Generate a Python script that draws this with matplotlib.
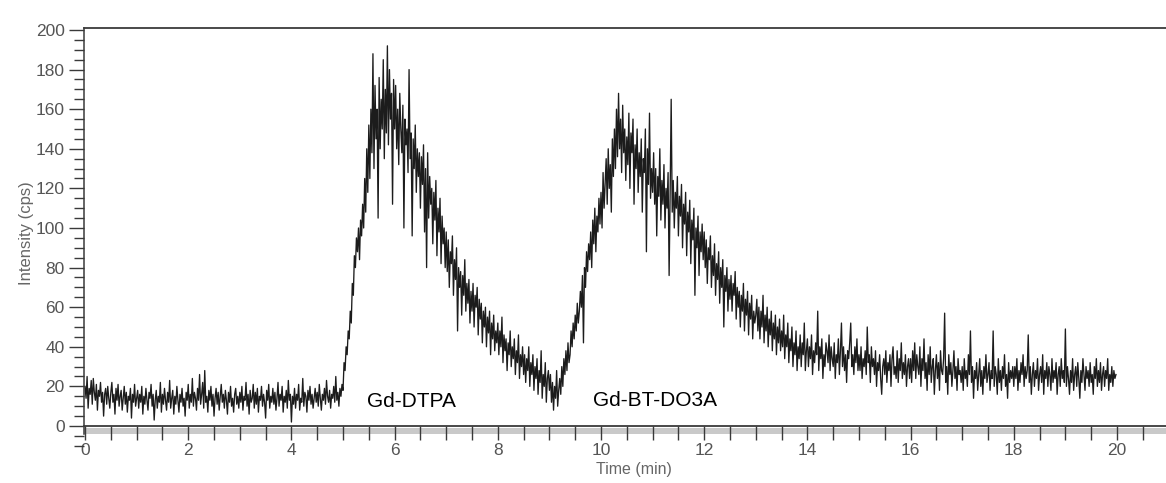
import numpy as np
import matplotlib
matplotlib.use("Agg")
import matplotlib.pyplot as plt
from matplotlib.patches import Rectangle
from matplotlib.ticker import MultipleLocator

plt.rcParams['font.family'] = ['Liberation Sans', 'DejaVu Sans']

# ---------------- data ----------------
# readings every 0.02 min; each list covers half a minute (25 readings)
sample_step_min = 0.02

i_00a = [20, 14, 25, 9, 19, 16, 23, 11, 24, 17, 13, 21, 8, 18, 15, 22, 12, 17, 5, 16, 19, 11, 20, 14, 9]
i_00b = [17, 22, 12, 16, 6, 19, 13, 21, 10, 15, 18, 8, 14, 20, 11, 17, 7, 15, 13, 19, 4, 16, 12, 21, 10]
i_01a = [14, 18, 9, 16, 12, 20, 6, 15, 11, 19, 13, 8, 17, 14, 21, 10, 16, 3, 13, 18, 9, 15, 12, 22, 7]
i_01b = [16, 11, 19, 13, 8, 17, 12, 23, 9, 14, 18, 6, 15, 11, 20, 13, 7, 16, 12, 19, 10, 14, 5, 17, 13]
i_02a = [21, 9, 16, 12, 24, 10, 17, 14, 8, 19, 13, 26, 11, 16, 22, 9, 28, 12, 15, 7, 18, 13, 20, 10, 16]
i_02b = [5, 14, 19, 11, 17, 8, 15, 21, 12, 16, 9, 18, 13, 6, 17, 12, 20, 10, 14, 7, 16, 19, 11, 15, 9]
i_03a = [17, 12, 20, 8, 15, 13, 22, 10, 16, 6, 18, 12, 14, 21, 9, 17, 11, 19, 7, 15, 13, 20, 10, 16, 12]
i_03b = [4, 18, 13, 21, 9, 15, 12, 19, 11, 17, 8, 14, 22, 10, 16, 13, 20, 7, 15, 12, 18, 9, 23, 13, 16]
i_04a = [2, 15, 11, 19, 9, 16, 13, 21, 8, 14, 12, 24, 10, 17, 15, 7, 18, 13, 20, 11, 16, 9, 14, 19, 12]
i_04b = [17, 10, 21, 14, 8, 16, 13, 19, 11, 23, 15, 12, 18, 9, 16, 14, 20, 12, 25, 13, 17, 10, 19, 15, 21]
i_05a = [18, 32, 28, 40, 36, 48, 44, 58, 52, 72, 66, 86, 80, 95, 88, 100, 84, 104, 96, 112, 100, 125, 108, 140, 118]
i_05b = [152, 125, 160, 138, 188, 130, 172, 145, 160, 105, 176, 140, 165, 150, 185, 135, 170, 148, 192, 142, 180, 155, 168, 112, 175]
i_06a = [150, 172, 140, 160, 132, 168, 150, 138, 162, 100, 155, 142, 150, 128, 180, 135, 148, 96, 145, 130, 152, 118, 140, 126, 138]
i_06b = [110, 136, 122, 142, 98, 130, 80, 138, 105, 126, 112, 120, 92, 118, 104, 124, 86, 110, 98, 115, 82, 106, 92, 100, 80]
i_07a = [98, 78, 94, 70, 88, 82, 96, 66, 84, 74, 90, 48, 80, 70, 78, 56, 76, 66, 84, 58, 72, 62, 74, 52, 68]
i_07b = [58, 72, 50, 66, 60, 70, 46, 64, 54, 62, 42, 58, 50, 60, 40, 55, 47, 58, 36, 52, 44, 56, 38, 48, 42]
i_08a = [52, 36, 48, 40, 55, 32, 46, 38, 44, 28, 42, 36, 48, 30, 40, 34, 44, 26, 38, 32, 46, 24, 36, 30, 40]
i_08b = [26, 36, 22, 34, 28, 40, 20, 32, 26, 36, 18, 30, 24, 34, 16, 28, 22, 38, 14, 26, 20, 32, 12, 24, 28]
i_09a = [18, 26, 12, 22, 8, 20, 14, 28, 10, 18, 24, 16, 30, 20, 34, 26, 38, 28, 42, 32, 36, 48, 40, 52, 44]
i_09b = [56, 48, 62, 52, 58, 68, 60, 76, 42, 80, 70, 88, 78, 92, 84, 98, 80, 104, 92, 110, 88, 106, 98, 115, 102]
i_10a = [118, 100, 128, 110, 122, 135, 112, 140, 120, 132, 108, 145, 126, 150, 130, 160, 136, 168, 140, 155, 128, 162, 138, 150, 124]
i_10b = [146, 132, 158, 120, 148, 138, 155, 112, 142, 130, 150, 118, 138, 126, 145, 108, 135, 128, 150, 88, 140, 122, 158, 115, 130]
i_11a = [118, 138, 112, 130, 96, 126, 116, 140, 104, 124, 112, 132, 100, 120, 110, 128, 76, 118, 165, 108, 124, 100, 118, 110, 126]
i_11b = [96, 116, 106, 122, 90, 112, 102, 118, 86, 108, 98, 114, 82, 104, 94, 110, 66, 100, 90, 106, 76, 98, 88, 102, 84]
i_12a = [98, 80, 94, 72, 90, 84, 96, 70, 86, 76, 92, 66, 82, 74, 88, 62, 80, 70, 84, 50, 76, 68, 80, 58, 74]
i_12b = [64, 76, 58, 72, 66, 78, 54, 70, 60, 68, 50, 66, 58, 72, 48, 64, 56, 68, 46, 62, 54, 66, 44, 58, 52]
i_13a = [56, 64, 48, 60, 44, 58, 50, 66, 42, 56, 48, 60, 40, 54, 46, 58, 38, 52, 44, 56, 36, 50, 42, 54, 38]
i_13b = [48, 40, 56, 34, 46, 40, 52, 32, 44, 38, 50, 30, 42, 36, 48, 28, 40, 34, 46, 30, 42, 36, 52, 28, 38]
i_14a = [44, 30, 40, 34, 46, 26, 38, 32, 42, 36, 58, 28, 40, 34, 44, 24, 36, 30, 42, 38, 32, 46, 28, 40, 34]
i_14b = [30, 42, 24, 36, 32, 44, 26, 38, 52, 30, 40, 28, 36, 22, 38, 34, 42, 52, 30, 36, 26, 40, 32, 44, 28]
i_15a = [36, 28, 40, 24, 34, 30, 38, 26, 50, 32, 36, 22, 40, 30, 34, 26, 38, 20, 32, 28, 36, 24, 16, 30, 34]
i_15b = [26, 38, 22, 32, 28, 36, 20, 34, 40, 26, 30, 24, 38, 22, 34, 28, 42, 24, 32, 26, 36, 20, 30, 34, 24]
i_16a = [34, 22, 38, 28, 42, 24, 36, 30, 26, 40, 20, 34, 28, 44, 24, 32, 18, 36, 26, 40, 22, 30, 34, 16, 28]
i_16b = [36, 24, 32, 18, 38, 28, 26, 34, 57, 22, 30, 16, 36, 26, 32, 20, 28, 38, 24, 30, 18, 34, 26, 28, 22]
i_17a = [30, 18, 34, 24, 28, 20, 36, 26, 48, 22, 30, 14, 28, 24, 32, 18, 26, 34, 20, 28, 16, 30, 24, 36, 22]
i_17b = [26, 32, 18, 28, 24, 48, 20, 30, 26, 16, 34, 22, 28, 18, 30, 24, 36, 20, 26, 14, 32, 22, 28, 24, 30]
i_18a = [20, 30, 24, 34, 18, 28, 22, 32, 26, 36, 20, 30, 24, 28, 46, 22, 30, 16, 26, 32, 20, 28, 24, 34, 18]
i_18b = [26, 30, 22, 36, 16, 28, 24, 32, 20, 30, 26, 18, 34, 22, 28, 24, 32, 16, 26, 30, 20, 34, 24, 28, 22]
i_19a = [49, 20, 30, 24, 16, 28, 22, 34, 18, 26, 30, 20, 32, 24, 14, 28, 22, 34, 26, 18, 30, 24, 28, 20, 32]
i_19b = [22, 26, 16, 30, 24, 34, 20, 28, 22, 32, 18, 26, 30, 20, 28, 24, 34, 18, 26, 22, 30, 20, 28, 24, 26]

blocks = [i_00a, i_00b, i_01a, i_01b, i_02a, i_02b, i_03a, i_03b, i_04a, i_04b,
          i_05a, i_05b, i_06a, i_06b, i_07a, i_07b, i_08a, i_08b, i_09a, i_09b,
          i_10a, i_10b, i_11a, i_11b, i_12a, i_12b, i_13a, i_13b, i_14a, i_14b,
          i_15a, i_15b, i_16a, i_16b, i_17a, i_17b, i_18a, i_18b, i_19a, i_19b]
block_span_min = 0.5

peak_labels = ["Gd-DTPA", "Gd-BT-DO3A"]
x_ticks = [0, 2, 4, 6, 8, 10, 12, 14, 16, 18, 20]
y_ticks = [0, 20, 40, 60, 80, 100, 120, 140, 160, 180, 200]
x_title = "Time (min)"
y_title = "Intensity (cps)"

time_parts, value_parts = [], []
for b, vals in enumerate(blocks):
    time_parts.append(b * block_span_min + np.arange(len(vals)) * sample_step_min)
    value_parts.append(np.asarray(vals, dtype=float))
time = np.concatenate(time_parts)
intensity = np.concatenate(value_parts)

# ---------------- figure ----------------
W, H = 1166, 483
fig = plt.figure(figsize=(W / 100, H / 100), dpi=100)
ax_left, ax_right, ax_top, ax_bottom = 84, 1166, 28, 445.8
ax = fig.add_axes([ax_left / W, 1 - ax_bottom / H,
                   (ax_right - ax_left) / W, (ax_bottom - ax_top) / H])
ax.set_xlim(-0.02, 20.95)
ax.set_ylim(-10, 201)

ax.plot(time, intensity, color='#1c1c1c', lw=0.95, zorder=2)

# grey strip under the time axis
ax.axhspan(-4.2, -1.2, color='#c9c9c9', lw=0, zorder=1)

# label boxes hiding the trace
ax.add_patch(Rectangle((5.08, 1.5), 2.83, 30.3, facecolor='white',
                       edgecolor='none', zorder=3))
ax.add_patch(Rectangle((9.44, 1.5), 3.44, 30.3, facecolor='white',
                       edgecolor='none', zorder=3))
ax.text(5.47, 12.6, peak_labels[0], fontsize=15, color='black',
        va='center', ha='left', zorder=4)
ax.text(9.84, 13.0, peak_labels[1], fontsize=15, color='black',
        va='center', ha='left', zorder=4)

# spines
spine_col = '#3a3a3a'
ax.spines['right'].set_visible(False)
ax.spines['top'].set_color(spine_col)
ax.spines['top'].set_linewidth(1.3)
ax.spines['left'].set_color(spine_col)
ax.spines['left'].set_linewidth(1.1)
ax.spines['left'].set_bounds(-4, 201)
ax.spines['bottom'].set_position(('data', 0))
ax.spines['bottom'].set_color(spine_col)
ax.spines['bottom'].set_linewidth(1.3)

ax.set_xticks(x_ticks)
ax.set_xticklabels([str(v) for v in x_ticks])
ax.xaxis.set_minor_locator(MultipleLocator(0.5))
ax.set_yticks(y_ticks)
ax.set_yticklabels([str(v) for v in y_ticks])
ax.yaxis.set_minor_locator(MultipleLocator(5))

ax.tick_params(axis='x', which='both', direction='out', length=10,
               width=1.0, color=spine_col, labelsize=12.5, labelcolor='#555555', pad=2)
ax.tick_params(axis='y', which='major', direction='out', length=11,
               width=1.0, color=spine_col, labelsize=12.5, labelcolor='#555555', pad=3)
ax.tick_params(axis='y', which='minor', direction='out', length=7,
               width=1.0, color=spine_col)

ax.set_xlabel(x_title, fontsize=11.5, color='#666666')
ax.xaxis.set_label_coords(0.508, -0.038)
ax.set_ylabel(y_title, fontsize=12, color='#666666')
ax.yaxis.set_label_coords(-0.046, 0.51)

fig.savefig('out.png', dpi=100, facecolor='white')
